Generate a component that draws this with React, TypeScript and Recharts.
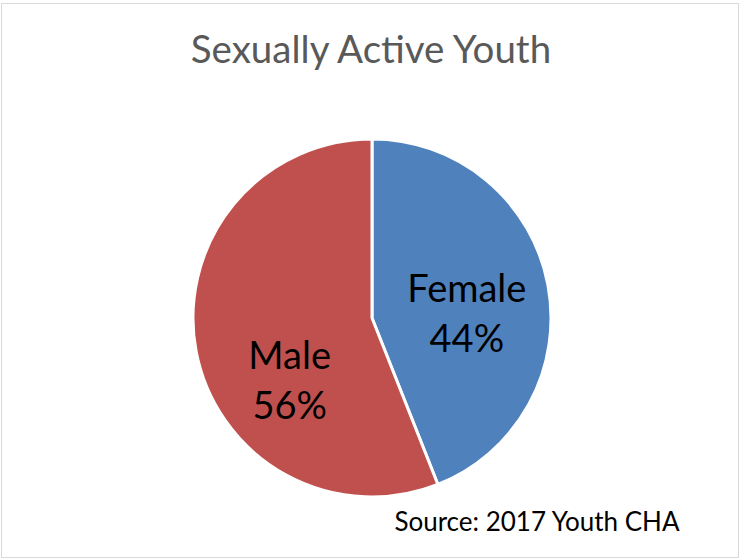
import { PieChart, Pie, Cell } from "recharts";

// Values
const categories = ["Female", "Male"];
const shares = [44, 56];
const colors = ["#4F81BD", "#C0504D"];

const title = "Sexually Active Youth";
const source = "Source: 2017 Youth CHA";

const data = categories.map((name, i) => ({ name, value: shares[i] }));

// where each label's first line sits, as a fraction of the radius from the centre
const labelSpots = [
  [0.53, -0.09],
  [-0.46, 0.285],
];

const FONT = "Lato, 'Open Sans', sans-serif";

const renderLabel = (props: any) => {
  const { cx, cy, outerRadius, index, name, percent } = props;
  const [fx, fy] = labelSpots[index];
  const x = cx + fx * outerRadius;
  const y = cy + fy * outerRadius;
  return (
    <text
      x={x}
      y={y}
      textAnchor="middle"
      fontFamily={FONT}
      fontSize={38}
      fill="#000"
    >
      <tspan x={x}>{name}</tspan>
      <tspan x={x} dy={50}>
        {Math.round(percent * 100)}%
      </tspan>
    </text>
  );
};

export default function App() {
  return (
    <div
      style={{
        position: "absolute",
        left: 0,
        top: 0,
        width: 741,
        height: 559,
        background: "#fff",
      }}
    >
      <div
        style={{
          position: "absolute",
          left: 1,
          top: 3,
          width: 736,
          height: 553,
          border: "1px solid #D9D9D9",
        }}
      />
      <PieChart
        width={741}
        height={559}
        margin={{ top: 0, right: 0, bottom: 0, left: 0 }}
        style={{ position: "absolute", left: 0, top: 0 }}
      >
        <Pie
          data={data}
          dataKey="value"
          nameKey="name"
          cx={372}
          cy={318}
          outerRadius={179}
          startAngle={90}
          endAngle={-270}
          stroke="#fff"
          strokeWidth={3}
          labelLine={false}
          label={renderLabel}
          isAnimationActive={false}
        >
          {data.map((entry, index) => (
            <Cell key={`cell-${entry.name}`} fill={colors[index]} />
          ))}
        </Pie>
      </PieChart>
      <svg
        width={741}
        height={559}
        style={{ position: "absolute", left: 0, top: 0, pointerEvents: "none" }}
      >
        <text
          x={371}
          y={63}
          textAnchor="middle"
          fontFamily={FONT}
          fontSize={38.5}
          fill="#595959"
        >
          {title}
        </text>
        <text
          x={537}
          y={531}
          textAnchor="middle"
          fontFamily={FONT}
          fontSize={26}
          fill="#000"
        >
          {source}
        </text>
      </svg>
    </div>
  );
}
